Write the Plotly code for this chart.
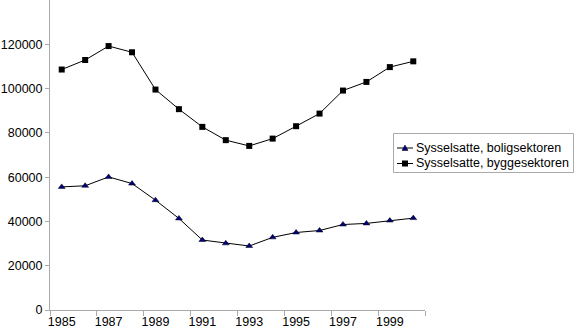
import plotly.graph_objects as go

years = list(range(1985, 2001))
bolig = [55600, 56100, 60100, 57100, 49600, 41350, 31600, 30100, 28900, 32800,
         35000, 35900, 38600, 39100, 40400, 41500]
bygg = [108600, 112900, 119200, 116400, 99550, 90700, 82700, 76700, 74100, 77400,
        83000, 88700, 99100, 103000, 109700, 112300]
series_names = ["Sysselsatte, boligsektoren", "Sysselsatte, byggesektoren"]
ytickvals = [0, 20000, 40000, 60000, 80000, 100000, 120000]
yticktext = [str(v) for v in ytickvals]
xlabels = [1985, 1987, 1989, 1991, 1993, 1995, 1997, 1999]

FONT = "Liberation Sans, Arial, Helvetica, sans-serif"
AXIS = "#aaaaaa"

# plot area in pixels: x 50..425, y 0..310
W, H = 580, 330
L, R, T, B = 50, 155, 0, 20
PW, PH = W - L - R, H - T - B


def px(xp):
    return (xp - L) / PW


def py(yp):
    return (T + PH - yp) / PH


fig = go.Figure()
fig.add_trace(go.Scatter(
    x=years, y=bolig, mode="lines+markers", name=series_names[0],
    line=dict(color="black", width=1),
    marker=dict(symbol="triangle-up", size=6, color="#000080",
                line=dict(color="black", width=0.5)),
))
fig.add_trace(go.Scatter(
    x=years, y=bygg, mode="lines+markers", name=series_names[1],
    line=dict(color="black", width=1),
    marker=dict(symbol="square", size=6, color="black"),
))

shapes = []
annotations = []
# legend box
shapes.append(dict(type="rect", xref="paper", yref="paper",
                   x0=px(393.5), x1=px(573.5), y0=py(172.5), y1=py(133.5),
                   line=dict(color=AXIS, width=1), fillcolor="white", layer="above"))
rows = [148, 163.5]
for i, yp in enumerate(rows):
    shapes.append(dict(type="line", xref="paper", yref="paper",
                       x0=px(397), x1=px(413), y0=py(yp), y1=py(yp),
                       line=dict(color="black", width=1), layer="above"))
    cx = 405
    if i == 0:
        path = "M {},{} L {},{} L {},{} Z".format(
            px(cx - 3), py(yp + 2.5), px(cx + 3), py(yp + 2.5), px(cx), py(yp - 3))
        shapes.append(dict(type="path", xref="paper", yref="paper", path=path,
                           fillcolor="#000080", line=dict(color="black", width=0.5),
                           layer="above"))
    else:
        shapes.append(dict(type="rect", xref="paper", yref="paper",
                           x0=px(cx - 3), x1=px(cx + 3), y0=py(yp + 3), y1=py(yp - 3),
                           fillcolor="black", line=dict(width=0), layer="above"))
    annotations.append(dict(xref="paper", yref="paper", x=px(414), y=py(yp),
                            xanchor="left", yanchor="middle", showarrow=False,
                            text=series_names[i], font=dict(size=12.5, color="black")))

fig.update_layout(
    width=W, height=H,
    margin=dict(l=L, r=R, t=T, b=B),
    paper_bgcolor="white", plot_bgcolor="white",
    font=dict(family=FONT, size=12.5, color="black"),
    showlegend=False,
    xaxis=dict(range=[1984.5, 2000.5], tickmode="array", tickvals=xlabels,
               ticks="", showgrid=False, zeroline=False, showline=True,
               linecolor=AXIS, linewidth=1, tickfont=dict(size=12.5),
               minor=dict(tickmode="linear", tick0=1984.5, dtick=2,
                          ticks="outside", ticklen=5, tickcolor=AXIS,
                          tickwidth=1, showgrid=False)),
    yaxis=dict(range=[0, 140000], tickmode="array", tickvals=ytickvals,
               ticktext=yticktext, ticks="outside", ticklen=4, tickcolor=AXIS,
               showgrid=False, zeroline=False, showline=True, linecolor=AXIS,
               linewidth=1, tickfont=dict(size=12.5)),
    shapes=shapes,
    annotations=annotations,
)

fig.write_html("out.html")
